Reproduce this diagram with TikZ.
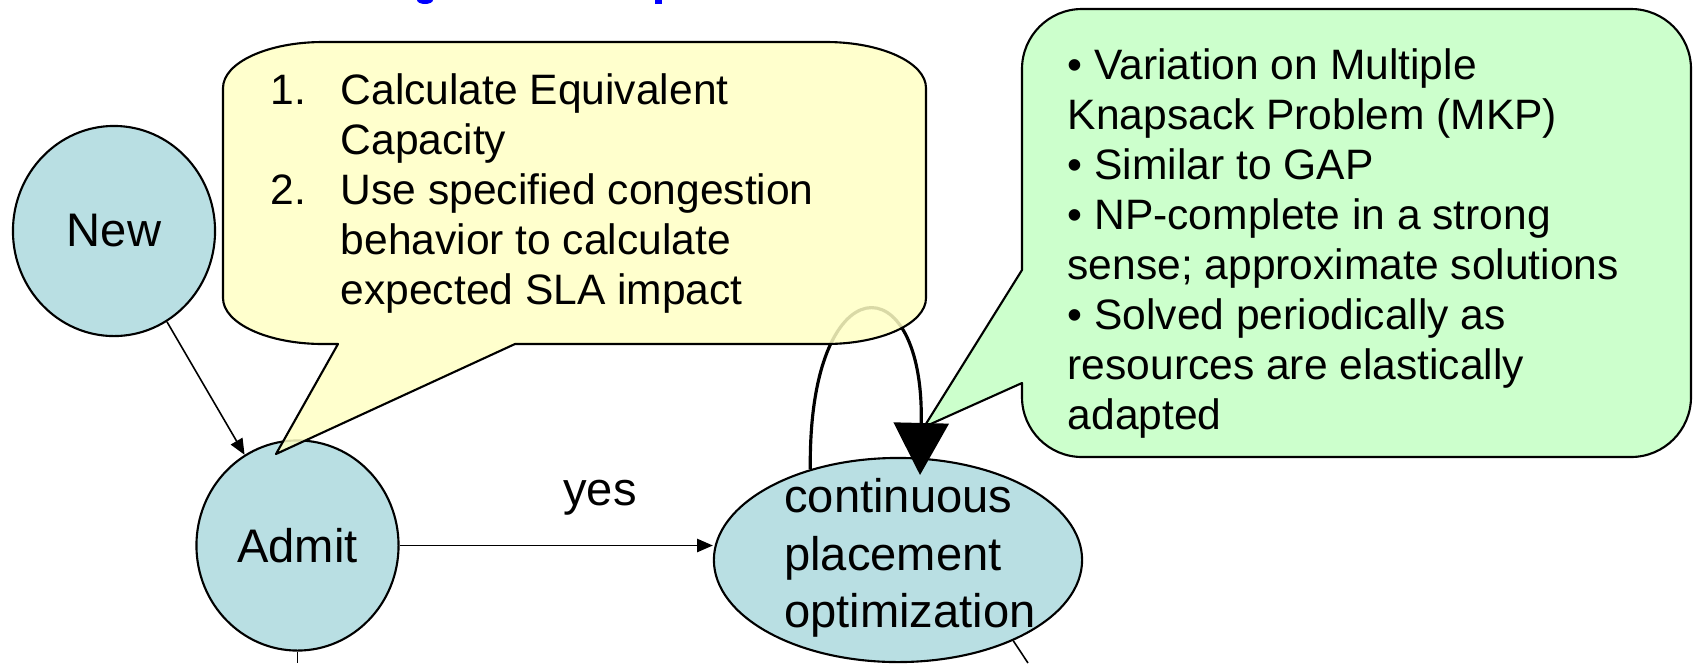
\documentclass[tikz,border=0pt]{standalone}
\usepackage{fontspec}
\setmainfont{Liberation Sans}
\usetikzlibrary{arrows.meta,shapes.geometric,positioning}

\definecolor{nodeblue}{RGB}{185,223,227}
\definecolor{noteyellow}{RGB}{255,255,196}
\definecolor{notegreen}{RGB}{204,255,204}
\definecolor{titleblue}{RGB}{0,0,255}

\tikzset{
  state/.style={ellipse, draw, line width=0.6pt, fill=nodeblue, minimum width=2.02cm, minimum height=2.1cm, inner sep=0pt, font=\fontsize{13.4}{16.4}\selectfont},
  bigtext/.style={inner sep=0pt, font=\fontsize{13.4}{16.4}\selectfont},
  flow/.style={line width=0.45pt, -{Triangle[length=4.5pt,width=3.8pt]}},
  note/.style={draw, line width=0.6pt, line join=round},
  notetext/.style={anchor=north west, inner sep=0pt, align=left, font=\fontsize{12.1}{14.2}\selectfont}
}

\newcommand{\itm}[1]{\makebox[19.9pt][l]{#1}}

\begin{document}
\begin{tikzpicture}[x=0.01cm, y=-0.01cm]
  \useasboundingbox (0,0) rectangle (1693,663);

  % bits of the slide title, cut off at the top
  \fill[titleblue] (417,0) arc[start angle=180, end angle=0, x radius=8, y radius=4] -- cycle;
  \fill[titleblue] (655,0) rectangle (662,4);

  % green note
  \draw[note, fill=notegreen] (1082,9) -- (1631,9) arc[start angle=270, end angle=360, radius=60]
    -- (1691,397) arc[start angle=0, end angle=90, radius=60]
    -- (1082,457) arc[start angle=90, end angle=180, radius=60]
    -- (1022,383) -- (924,427) -- (1022,270)
    -- (1022,69) arc[start angle=180, end angle=270, radius=60] -- cycle;
  \node[notetext] (mkp) at (1067,48) {• Variation on Multiple\\Knapsack Problem (MKP)\\• Similar to GAP\\• NP-complete in a strong\\sense; approximate solutions\\• Solved periodically as\\resources are elastically\\adapted};

  % states
  \node[state] (new) at (114,231) {New};
  \node[state] (admit) at (297.5,545.5) {Admit};
  \node[state, minimum width=3.68cm, minimum height=2.04cm] (cpo) at (898,560) {};
  \node[bigtext, align=left] (cpotext) at (910,558) {continuous\\placement\\optimization};

  % connectors
  \draw[flow] (new) -- (admit);
  \draw[flow] (admit.east) -- (admit.east -| cpo.west) node[bigtext, pos=0.64, above=8.5pt] (yes) {yes};

  \coordinate (looptip) at (920,475);
  \draw[line width=0.9pt, -{Triangle[length=14.8pt,width=15.6pt]}] (cpo.134) .. controls (808,262) and (925,262) .. (looptip);

  \coordinate (admitout) at (297.5,663);
  \coordinate (cpoout) at (1028,663);
  \draw[line width=0.45pt] (admit.south) -- (admitout);
  \draw[line width=0.45pt] (cpo.-35) -- (cpoout);

  % yellow note
  \draw[note, fill=noteyellow, fill opacity=0.85] (323,42) -- (826,42) arc[start angle=270, end angle=360, x radius=100, y radius=46]
    -- (926,298) arc[start angle=0, end angle=90, x radius=100, y radius=46]
    -- (515,344) -- (276,454) -- (338,344)
    -- (323,344) arc[start angle=90, end angle=180, x radius=100, y radius=46]
    -- (223,88) arc[start angle=180, end angle=270, x radius=100, y radius=46] -- cycle;
  \node[notetext] (capacity) at (270,73) {\itm{1.}Calculate Equivalent\\\itm{}Capacity\\\itm{2.}Use specified congestion\\\itm{}behavior to calculate\\\itm{}expected SLA impact};
\end{tikzpicture}
\end{document}
